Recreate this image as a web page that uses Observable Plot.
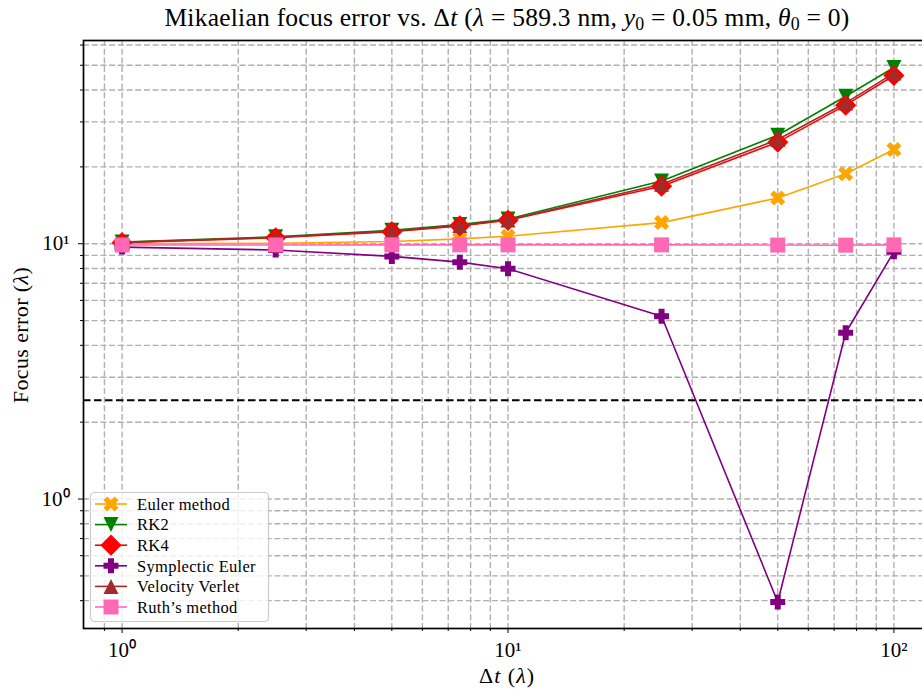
<!DOCTYPE html>
<html><head><meta charset="utf-8">
<script src="https://cdn.jsdelivr.net/npm/d3@7"></script>
<script src="https://cdn.jsdelivr.net/npm/@observablehq/plot@0.6"></script>
<style>
body{margin:0;background:#fff;}
#wrap{position:relative;width:922px;height:689px;overflow:hidden;font-family:"Liberation Serif",serif;color:#000;}
#wrap svg.plot{position:absolute;left:0;top:0;}
.title{position:absolute;left:0;width:1014px;top:3px;text-align:center;font-size:25.5px;white-space:nowrap;letter-spacing:0.25px;}
.xlabel{position:absolute;left:0;width:1014px;top:663px;text-align:center;font-size:22px;white-space:nowrap;letter-spacing:1px;}
.ylabel{position:absolute;left:21px;top:335px;font-size:22px;white-space:nowrap;letter-spacing:0.4px;transform:translate(-50%,-50%) rotate(-90deg);}
sub{font-size:0.7em;vertical-align:-0.25em;line-height:0;}
#legend{position:absolute;left:0;top:0;}
</style></head><body><div id="wrap"></div>
<script>
const dt = [1, 2.5, 5, 7.5, 10, 25, 50, 75, 100];
const eulerVals = [10.0, 10.05, 10.2, 10.45, 10.7, 12.1, 15.1, 18.8, 23.4];
const rk2Vals = [10.15, 10.65, 11.3, 11.9, 12.5, 17.6, 26.6, 37.8, 49.0];
const rk4Vals = [10.1, 10.55, 11.15, 11.75, 12.35, 16.8, 25.0, 34.9, 45.6];
const sympVals = [9.7, 9.45, 8.92, 8.47, 7.98, 5.2, 0.395, 4.48, 9.3];
const verletVals = [10.12, 10.6, 11.2, 11.8, 12.4, 17.1, 25.6, 35.6, 46.6];
const ruthVals = [9.89, 9.89, 9.9, 9.9, 9.9, 9.9, 9.88, 9.87, 9.9];
const seriesNames = ["Euler method", "RK2", "RK4", "Symplectic Euler", "Velocity Verlet", "Ruth\u2019s method"];
const seriesColors = ["orange", "green", "red", "purple", "brown", "hotpink"];
const seriesMarkers = ["X", "v", "D", "P", "^", "s"];
const refLevel = 2.44;
const xMajor = [1, 10, 100];
const xMinor = [0.9, 2, 3, 4, 5, 6, 7, 8, 9, 20, 30, 40, 50, 60, 70, 80, 90];
const yMajor = [1, 10];
const yMinor = [0.4, 0.5, 0.6, 0.7, 0.8, 0.9, 2, 3, 4, 5, 6, 7, 8, 9, 20, 30, 40, 50, 60];
const supers = {"0": "\u2070", "1": "\u00b9", "2": "\u00b2"};
const fmtPow = v => "10" + supers[String(Math.round(Math.log10(v)))];

function poly(pts) {
  return {draw(ctx, size) {
    const r = Math.sqrt(size / Math.PI);
    ctx.moveTo(pts[0][0] * r, pts[0][1] * r);
    for (let i = 1; i < pts.length; i++) ctx.lineTo(pts[i][0] * r, pts[i][1] * r);
    ctx.closePath();
  }};
}
const symbols = {
  X: poly([[-1,-2],[0,-1],[1,-2],[2,-1],[1,0],[2,1],[1,2],[0,1],[-1,2],[-2,1],[-1,0],[-2,-1]].map(([a,b]) => [a/2, b/2])),
  P: poly([[-1,-0.4],[-1,0.4],[-0.4,0.4],[-0.4,1],[0.4,1],[0.4,0.4],[1,0.4],[1,-0.4],[0.4,-0.4],[0.4,-1],[-0.4,-1],[-0.4,-0.4]]),
  v: poly([[0,1],[-1,-1],[1,-1]]),
  "^": poly([[0,-1],[-1,1],[1,1]]),
  D: poly([[0,-1.414],[1.414,0],[0,1.414],[-1.414,0]]),
  s: poly([[-1,-1],[1,-1],[1,1],[-1,1]])
};

const allVals = [eulerVals, rk2Vals, rk4Vals, sympVals, verletVals, ruthVals];
const series = allVals.map((vals, k) => ({
  name: seriesNames[k], color: seriesColors[k], marker: seriesMarkers[k],
  data: dt.map((x, i) => ({x, y: vals[i]}))
}));

const gridStyle = {stroke: "#b0b0b0", strokeWidth: 1.4, strokeDasharray: "6,2.7"};
const marks = [
  Plot.ruleX(xMinor.concat(xMajor), gridStyle),
  Plot.ruleY(yMinor.concat(yMajor), gridStyle),
  Plot.ruleY([refLevel], {stroke: "black", strokeWidth: 2, strokeDasharray: "7.5,3.5"})
];
for (const s of series) {
  marks.push(Plot.line(s.data, {x: "x", y: "y", stroke: s.color, strokeWidth: 1.6}));
  marks.push(Plot.dot(s.data, {x: "x", y: "y", fill: s.color, stroke: "none", r: 7.5, symbol: symbols[s.marker]}));
}
marks.push(
  Plot.axisX({ticks: xMajor, tickFormat: fmtPow, tickSize: 5, tickPadding: 9, fontSize: 21, label: null}),
  Plot.axisX({ticks: xMinor, tickFormat: () => "", tickSize: 3, label: null}),
  Plot.axisY({ticks: yMajor, tickFormat: fmtPow, tickSize: 5, tickPadding: 9, fontSize: 21, label: null}),
  Plot.axisY({ticks: yMinor, tickFormat: () => "", tickSize: 3, label: null}),
  Plot.frame({stroke: "black", strokeWidth: 1.7})
);

const chart = Plot.plot({
  width: 922, height: 689,
  marginLeft: 83, marginTop: 40, marginBottom: 61, marginRight: -10,
  style: {fontFamily: "Liberation Serif, serif", background: "white", color: "black", overflow: "hidden"},
  x: {type: "log", domain: [Math.pow(10, -0.1), Math.pow(10, 2.1)]},
  y: {type: "log", domain: [Math.pow(10, -0.507), Math.pow(10, 1.796)]},
  marks
});
chart.classList.add("plot");
const wrap = document.getElementById("wrap");
wrap.appendChild(chart);

const title = document.createElement("div");
title.className = "title";
title.innerHTML = "Mikaelian focus error vs. \u0394<i>t</i> (<i>\u03bb</i> = 589.3 nm, <i>y</i><sub>0</sub> = 0.05 mm, <i>\u03b8</i><sub>0</sub> = 0)";
wrap.appendChild(title);
const xl = document.createElement("div");
xl.className = "xlabel";
xl.innerHTML = "\u0394<i>t</i> (<i>\u03bb</i>)";
wrap.appendChild(xl);
const yl = document.createElement("div");
yl.className = "ylabel";
yl.innerHTML = "Focus error (<i>\u03bb</i>)";
wrap.appendChild(yl);

// legend
const lg = d3.select(wrap).append("svg").attr("id", "legend").attr("width", 922).attr("height", 689);
lg.append("rect").attr("x", 90.5).attr("y", 492.5).attr("width", 178).attr("height", 129).attr("rx", 4)
  .attr("fill", "white").attr("fill-opacity", 0.8).attr("stroke", "#cccccc").attr("stroke-width", 1.2);
series.forEach((s, i) => {
  const cy = 504 + i * 20.6;
  lg.append("line").attr("x1", 95).attr("x2", 127).attr("y1", cy).attr("y2", cy).attr("stroke", s.color).attr("stroke-width", 1.6);
  const p = d3.path();
  symbols[s.marker].draw(p, 7.5 * 7.5 * Math.PI);
  lg.append("path").attr("d", p.toString()).attr("transform", `translate(111,${cy})`).attr("fill", s.color);
  lg.append("text").attr("x", 137).attr("y", cy).attr("dy", "0.35em").attr("font-size", 16.5)
    .attr("letter-spacing", 0.3)
    .attr("font-family", "Liberation Serif, serif").text(s.name);
});
</script>
</body></html>
